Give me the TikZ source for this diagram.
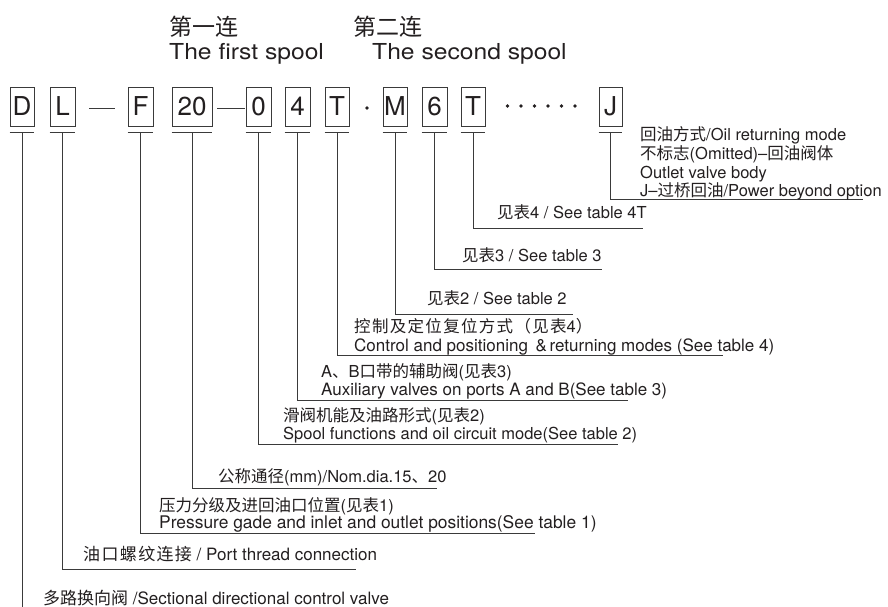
\documentclass[tikz,border=0pt]{standalone}
\usepackage{fontspec}
\setmainfont{TeX Gyre Heros}
\newfontfamily\cjk{Noto Sans CJK SC}
\newfontfamily\cjkw[LetterSpace=8]{Noto Sans CJK SC}
\newfontfamily\hdrfont[FakeStretch=1.12]{TeX Gyre Heros}
\newcommand{\zh}[1]{{\cjk #1}}
\newcommand{\zhw}[1]{{\cjkw #1}}
\usetikzlibrary{calc}
\definecolor{ink}{HTML}{231F20}
\definecolor{rule}{HTML}{3A3A3A}
\begin{document}
\begin{tikzpicture}[x=1pt,y=-1pt,
  box/.style={draw=rule, line width=0.8pt, inner sep=0pt, minimum height=39pt, text=ink,
    font=\fontsize{26}{26}\selectfont},
  uline/.style={draw=rule, line width=1.3pt},
  conn/.style={draw=rule, line width=0.9pt},
  lbl/.style={anchor=west, inner sep=0pt, text=ink, text height=12pt, text depth=3.5pt,
    font=\fontsize{16.5}{17}\selectfont},
  lblb/.style={lbl, font=\fontsize{17}{17}\selectfont},
  hdr/.style={anchor=west, inner sep=0pt, text=ink, font=\hdrfont\fontsize{22}{22}\selectfont},
  hdrzh/.style={anchor=west, inner sep=0pt, text=ink, font=\cjk\fontsize{23}{23}\selectfont},
  dotm/.style={circle, fill=ink, inner sep=0pt, minimum size=3.6pt},
  sepline/.style={draw=rule, line width=0.9pt}]
\useasboundingbox (0,0) rectangle (888,607);

% header
\node[hdrzh] (h1zh) at (169,27) {第一连};
\node[hdr] (h1en) at (169,54) {The first spool};
\node[hdrzh] (h2zh) at (353,27) {第二连};
\node[hdr] (h2en) at (372,54) {The second spool};

% code boxes
\node[box, minimum width=24pt] (D) at (22,106.5) {D};
\node[box, minimum width=25pt] (L) at (62.5,106.5) {L};
\node[box, minimum width=25pt] (F) at (140.5,106.5) {F};
\node[box, minimum width=40pt] (N20) at (192,106.5) {20};
\node[box, minimum width=25pt] (Z) at (258.5,106.5) {0};
\node[box, minimum width=25pt] (V4) at (297.5,106.5) {4};
\node[box, minimum width=24pt] (T1) at (337,106.5) {T};
\node[box, minimum width=24pt] (M) at (395,106.5) {M};
\node[box, minimum width=25pt] (S6) at (434.5,106.5) {6};
\node[box, minimum width=24pt] (T2) at (473,106.5) {T};
\node[box, minimum width=23pt] (J) at (610.5,106.5) {J};

% separators
\coordinate (d1a) at (89,108); \coordinate (d1b) at (115,108);
\draw[sepline] (d1a) -- (d1b);
\coordinate (d2a) at (217,108); \coordinate (d2b) at (245,108);
\draw[sepline] (d2a) -- (d2b);
\node[dotm] (dot0) at (367,108) {};
\foreach \i in {0,...,5} {\node[dotm] (dd\i) at (507.5+13.5*\i,106) {};}

% underlines under the boxes
\foreach \b in {D,L,F,N20,Z,V4,T1,M,S6,T2,J} {
  \draw[uline] ($(\b.south west)+(0,6)$) -- ($(\b.south east)+(0,6)$);
  \coordinate (\b u) at ($(\b.south)+(0,6)$);
}

% label line ends
\coordinate (Je) at (863,199);
\coordinate (T2e) at (643,228);
\coordinate (S6e) at (602,269);
\coordinate (Me) at (573,314);
\coordinate (T1e) at (723,355);
\coordinate (V4e) at (628,400);
\coordinate (Ze) at (618,444);
\coordinate (N20e) at (437,488);
\coordinate (Fe) at (535,533);
\coordinate (Le) at (356,569);
\coordinate (De) at (22,607);

\draw[conn] (Ju) |- (Je);
\draw[conn] (T2u) |- (T2e);
\draw[conn] (S6u) |- (S6e);
\draw[conn] (Mu) |- (Me);
\draw[conn] (T1u) |- (T1e);
\draw[conn] (V4u) |- (V4e);
\draw[conn] (Zu) |- (Ze);
\draw[conn] (N20u) |- (N20e);
\draw[conn] (Fu) |- (Fe);
\draw[conn] (Lu) |- (Le);
\draw[conn] (Du) -- (De);

% labels
\node[lbl] (jl1) at (640,136) {\zh{回油方式}/Oil returning mode};
\node[lbl] (jl2) at (640,155) {\zh{不标志}(Omitted)–\zh{回油阀体}};
\node[lbl] (jl3) at (640,174) {Outlet valve body};
\node[lbl] (jl4) at (640,192) {J–\zh{过桥回油}/Power beyond option};

\node[lbl] (t2l) at (497,214) {\zh{见表}4 / See table 4T};
\node[lbl] (s6l) at (462,257) {\zh{见表}3 / See table 3};
\node[lbl] (ml) at (427,300) {\zh{见表}2 / See table 2};

\node[lbl] (t1l1) at (354,328) {\zhw{控制及定位复位方式（见表}4\zh{）}};
\node[lblb] (t1l2) at (354,347) {Control and positioning \,\&\,returning modes (See table 4)};

\node[lbl] (v4l1) at (321,373) {A\zh{、}B\zh{口带的辅助阀}(\zh{见表}3)};
\node[lblb] (v4l2) at (321,391) {Auxiliary valves on ports A and B(See table 3)};

\node[lbl] (zl1) at (283,417) {\zh{滑阀机能及油路形式}(\zh{见表}2)};
\node[lbl] (zl2) at (283,435) {Spool functions and oil circuit mode(See table 2)};

\node[lbl] (nl) at (218,478) {\zh{公称通径}(mm)/Nom.dia.15\zh{、}20};

\node[lbl] (fl1) at (159,507) {\zh{压力分级及进回油口位置}(\zh{见表}1)};
\node[lbl, font=\fontsize{17.4}{17}\selectfont] (fl2) at (159,524) {Pressure gade and inlet and outlet positions(See table 1)};

\node[lblb] (ll) at (83,556) {\zhw{油口螺纹连接} / Port thread connection};
\node[lblb] (dl) at (43,600) {\zh{多路换向阀} /Sectional directional control valve};
\end{tikzpicture}
\end{document}
